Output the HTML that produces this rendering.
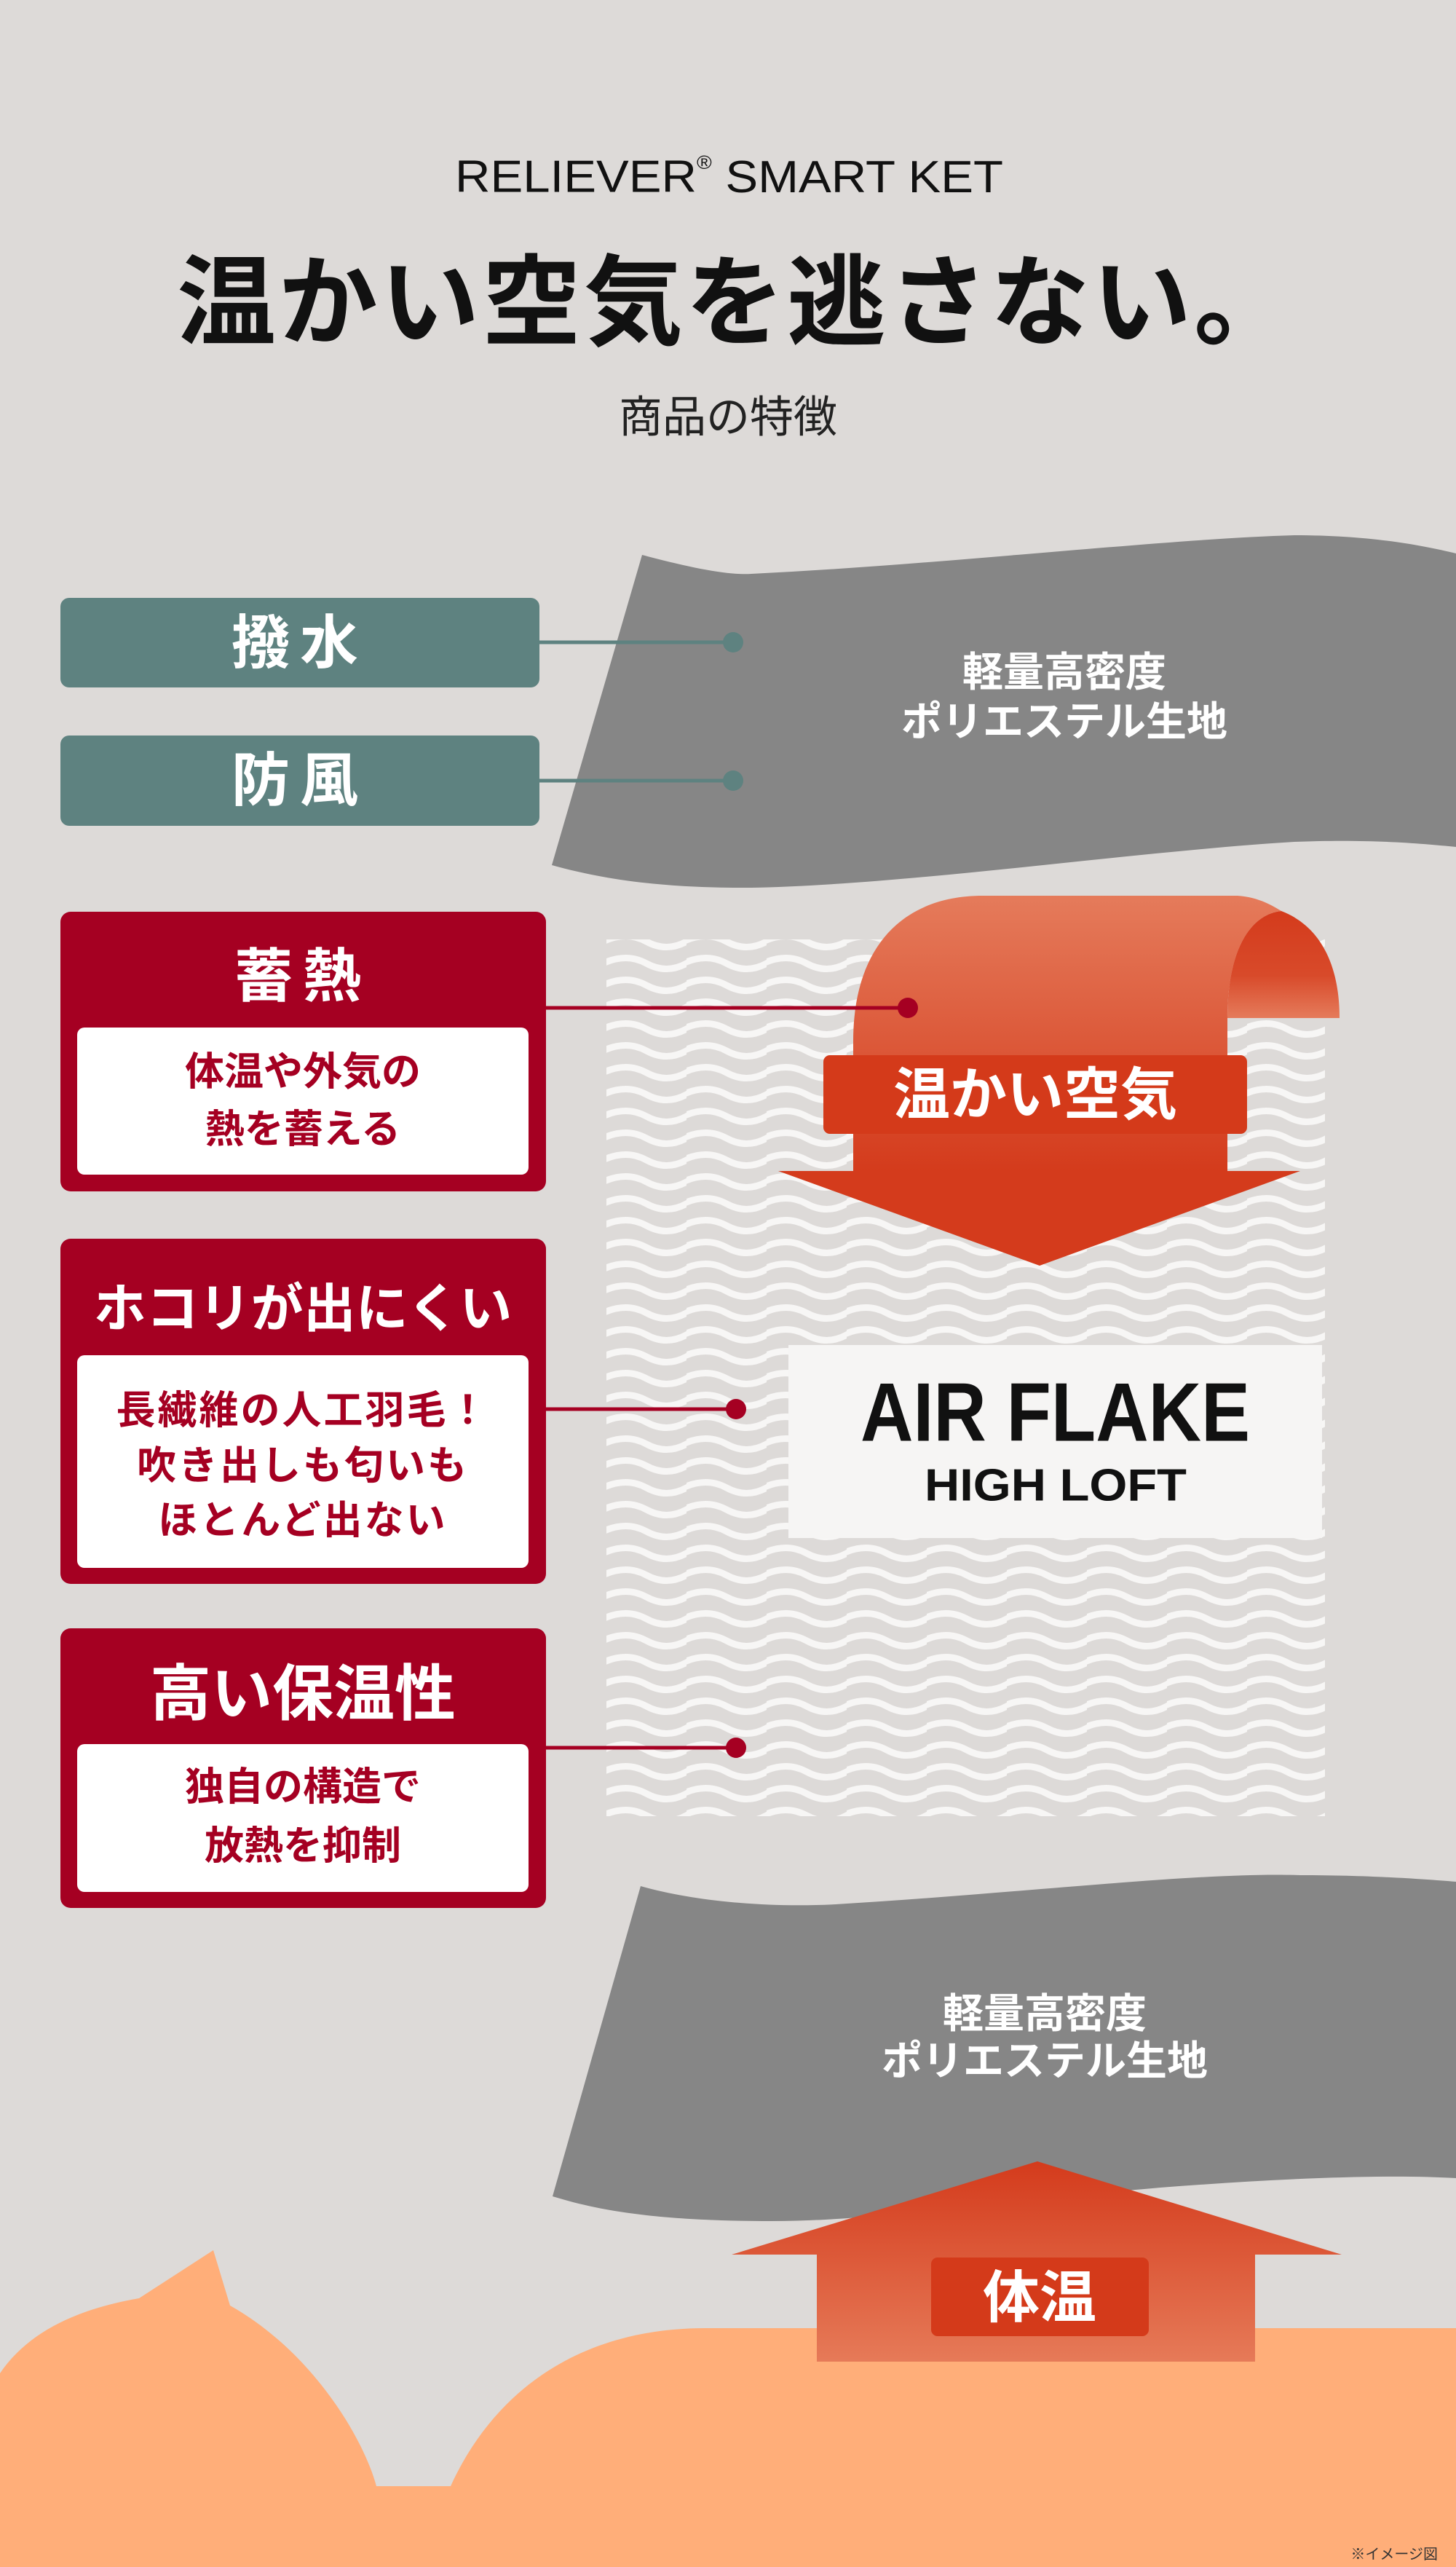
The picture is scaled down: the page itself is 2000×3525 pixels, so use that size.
<!DOCTYPE html>
<html><head><meta charset="utf-8"><style>
html,body{margin:0;padding:0;background:#dddad8;}
svg{display:block;}
text{font-family:"Liberation Sans","Noto Sans CJK JP",sans-serif;font-weight:bold;}
</style></head><body>
<svg width="2000" height="3525" viewBox="0 0 2000 3525" xmlns="http://www.w3.org/2000/svg">
<defs>
<pattern id="wv" x="833" y="1278" width="110" height="30" patternUnits="userSpaceOnUse">
<path d="M-5,15 Q27.5,0 55,15 T110,15 T165,15" fill="none" stroke="#f7f6f5" stroke-width="9"/>
</pattern>
<linearGradient id="gd" x1="0" y1="0" x2="0" y2="1">
<stop offset="0" stop-color="#e57b5b"/><stop offset="1" stop-color="#d43b1c"/></linearGradient>
<linearGradient id="gf" x1="0" y1="0" x2="0" y2="1">
<stop offset="0" stop-color="#d43b1c"/><stop offset="0.6" stop-color="#d84a2a"/><stop offset="1" stop-color="#e57b5b"/></linearGradient>
<linearGradient id="gu" x1="0" y1="0" x2="0" y2="1">
<stop offset="0" stop-color="#d43b1c"/><stop offset="1" stop-color="#e67a58"/></linearGradient>
</defs>
<rect width="2000" height="3525" fill="#dddad8"/>

<!-- header -->
<text x="625" y="243" font-size="62" textLength="753" lengthAdjust="spacingAndGlyphs" dominant-baseline="central" fill="#111" style="font-weight:normal">RELIEVER<tspan font-size="26" dy="-20">®</tspan><tspan dy="20"> SMART KET</tspan></text>
<text x="243" y="416" font-size="136" textLength="1533" dominant-baseline="central" fill="#111">温かい空気を逃さない。</text>
<text x="1000" y="573" font-size="60" text-anchor="middle" dominant-baseline="central" fill="#222" style="font-weight:normal">商品の特徴</text>

<!-- top fabric -->
<path d="M882,762 C950,780 1000,790 1032,788 C1300,775 1600,740 1778,735 C1880,735 1950,748 2000,760 L2000,1163 C1950,1158 1880,1152 1778,1156 C1550,1170 1250,1215 1032,1219 C900,1220 820,1205 758,1188 Z" fill="#868686"/>
<text x="1462" y="923" font-size="56" text-anchor="middle" dominant-baseline="central" fill="#fff">軽量高密度</text>
<text x="1462" y="991" font-size="56" text-anchor="middle" dominant-baseline="central" fill="#fff">ポリエステル生地</text>

<!-- waves -->
<rect x="833" y="1290" width="987" height="1204" fill="url(#wv)"/>

<!-- down arrow -->
<path d="M1686,1398 C1686,1300 1720,1255 1760,1251 C1810,1270 1840,1320 1840,1398 Z" fill="url(#gf)"/>
<path d="M1172,1608 L1172,1430 C1172,1300 1240,1230 1350,1230 L1700,1230 C1730,1232 1750,1245 1760,1251 C1720,1255 1686,1300 1686,1400 L1686,1608 Z" fill="url(#gd)"/>
<path d="M1069,1608 L1786,1608 L1428,1738 Z" fill="#d43b1c"/>
<rect x="1131" y="1449" width="582" height="108" rx="9" fill="#d43a1a"/>
<text x="1422" y="1503" font-size="78" text-anchor="middle" dominant-baseline="central" fill="#fff">温かい空気</text>

<!-- AIR FLAKE -->
<rect x="1083" y="1847" width="733" height="265" fill="#f6f5f4"/>
<text x="1182" y="1940" font-size="114" textLength="535" lengthAdjust="spacingAndGlyphs" dominant-baseline="central" fill="#111">AIR FLAKE</text>
<text x="1270" y="2040" font-size="62" textLength="360" lengthAdjust="spacingAndGlyphs" dominant-baseline="central" fill="#111">HIGH  LOFT</text>

<!-- teal boxes -->
<line x1="741" y1="882" x2="1007" y2="882" stroke="#5e8280" stroke-width="5"/>
<line x1="741" y1="1072" x2="1007" y2="1072" stroke="#5e8280" stroke-width="5"/>
<circle cx="1007" cy="882" r="14" fill="#5e8280"/>
<circle cx="1007" cy="1072" r="14" fill="#5e8280"/>
<rect x="83" y="821" width="658" height="123" rx="12" fill="#5e8280"/>
<rect x="83" y="1010" width="658" height="124" rx="12" fill="#5e8280"/>
<text x="412" y="883" font-size="80" text-anchor="middle" dominant-baseline="central" fill="#fff" letter-spacing="14">撥水</text>
<text x="412" y="1072" font-size="80" text-anchor="middle" dominant-baseline="central" fill="#fff" letter-spacing="14">防風</text>

<!-- red connectors -->
<g stroke="#a50022" stroke-width="5">
<line x1="750" y1="1384" x2="1247" y2="1384"/>
<line x1="750" y1="1935" x2="1011" y2="1935"/>
<line x1="750" y1="2400" x2="1011" y2="2400"/>
</g>
<circle cx="1247" cy="1384" r="14" fill="#a50022"/>
<circle cx="1011" cy="1935" r="14" fill="#a50022"/>
<circle cx="1011" cy="2400" r="14" fill="#a50022"/>

<!-- red boxes -->
<rect x="83" y="1252" width="667" height="384" rx="14" fill="#a50022"/>
<rect x="106" y="1411" width="620" height="202" rx="10" fill="#fff"/>
<text x="416" y="1341" font-size="80" text-anchor="middle" dominant-baseline="central" fill="#fff" letter-spacing="14">蓄熱</text>
<text x="416" y="1472" font-size="54" text-anchor="middle" dominant-baseline="central" fill="#a50022">体温や外気の</text>
<text x="416" y="1551" font-size="54" text-anchor="middle" dominant-baseline="central" fill="#a50022">熱を蓄える</text>

<rect x="83" y="1701" width="667" height="474" rx="14" fill="#a50022"/>
<rect x="106" y="1861" width="620" height="292" rx="10" fill="#fff"/>
<text x="416" y="1798" font-size="72" text-anchor="middle" dominant-baseline="central" fill="#fff">ホコリが出にくい</text>
<text x="416" y="1937" font-size="54" text-anchor="middle" dominant-baseline="central" fill="#a50022" letter-spacing="3">長繊維の人工羽毛！</text>
<text x="416" y="2013" font-size="54" text-anchor="middle" dominant-baseline="central" fill="#a50022" letter-spacing="3">吹き出しも匂いも</text>
<text x="416" y="2088" font-size="54" text-anchor="middle" dominant-baseline="central" fill="#a50022" letter-spacing="3">ほとんど出ない</text>

<rect x="83" y="2236" width="667" height="384" rx="14" fill="#a50022"/>
<rect x="106" y="2395" width="620" height="203" rx="10" fill="#fff"/>
<text x="416" y="2326" font-size="84" text-anchor="middle" dominant-baseline="central" fill="#fff">高い保温性</text>
<text x="416" y="2454" font-size="54" text-anchor="middle" dominant-baseline="central" fill="#a50022">独自の構造で</text>
<text x="416" y="2535" font-size="54" text-anchor="middle" dominant-baseline="central" fill="#a50022">放熱を抑制</text>

<!-- bottom fabric -->
<path d="M880,2590 C950,2610 1050,2620 1148,2615 C1400,2600 1650,2570 1786,2575 C1880,2575 1950,2580 2000,2584 L2000,2991 C1900,2985 1750,2992 1594,3004 C1350,3025 1200,3050 1059,3050 C900,3050 820,3035 759,3016 Z" fill="#868686"/>
<text x="1435" y="2765" font-size="56" text-anchor="middle" dominant-baseline="central" fill="#fff">軽量高密度</text>
<text x="1435" y="2830" font-size="56" text-anchor="middle" dominant-baseline="central" fill="#fff">ポリエステル生地</text>

<!-- peach -->
<path d="M0,3259 C40,3200 110,3170 191,3156 L293,3090 L316,3166 C430,3230 500,3350 517,3414 L619,3414 C680,3280 800,3197 969,3197 L2000,3197 L2000,3525 L0,3525 Z" fill="#ffae79"/>

<!-- up arrow -->
<polygon points="1425,2968 1843,3096 1724,3096 1724,3243 1122,3243 1122,3096 1005,3096" fill="url(#gu)"/>
<rect x="1279" y="3100" width="299" height="108" rx="9" fill="#d43a1a"/>
<text x="1428" y="3155" font-size="78" text-anchor="middle" dominant-baseline="central" fill="#fff">体温</text>

<text x="1975" y="3508" font-size="20" text-anchor="end" dominant-baseline="central" fill="#333" style="font-weight:normal">※イメージ図</text>
</svg>
</body></html>
